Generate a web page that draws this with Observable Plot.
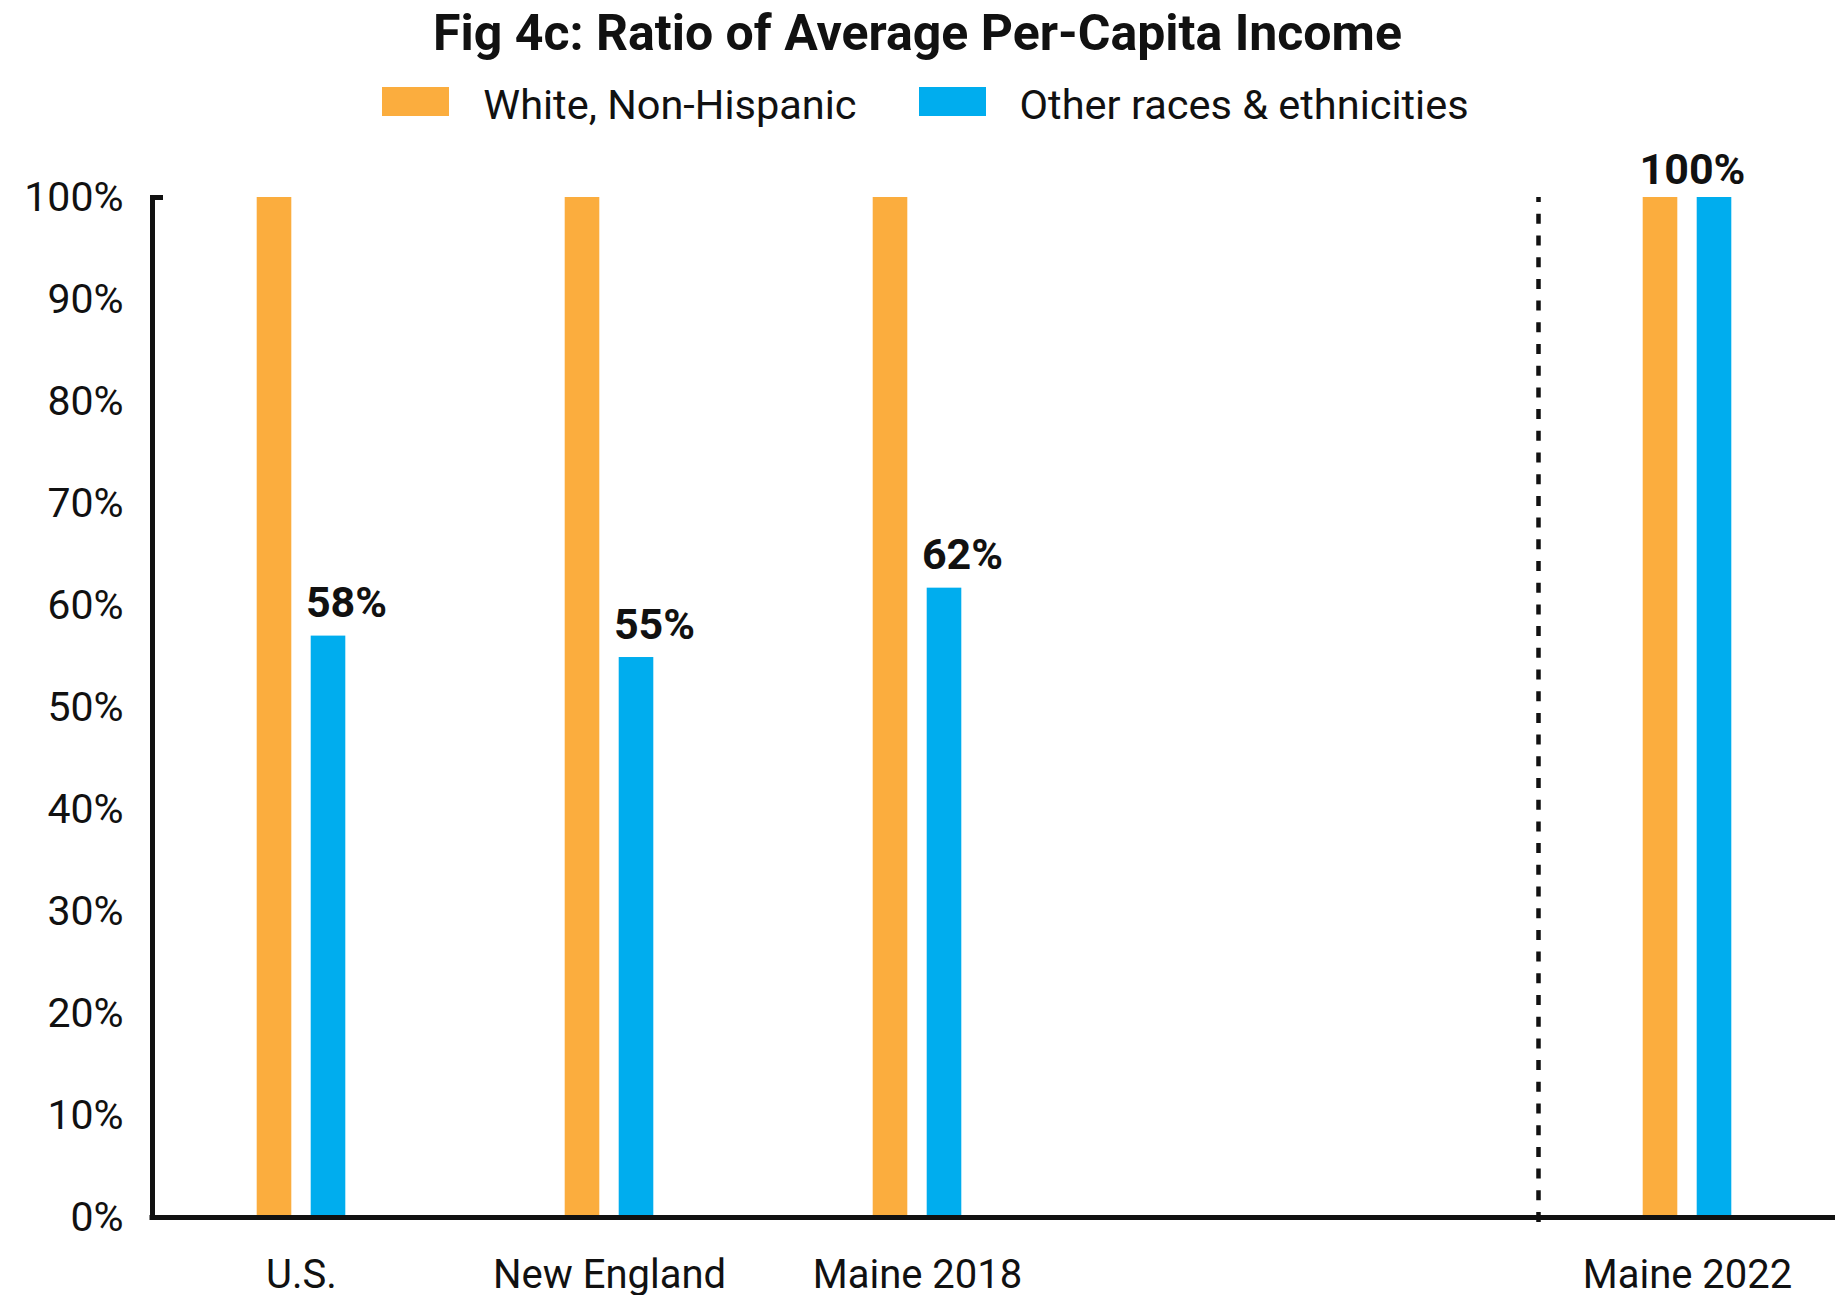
<!DOCTYPE html>
<html><head><meta charset="utf-8">
<script src="https://cdn.jsdelivr.net/npm/d3@7"></script>
<script src="https://cdn.jsdelivr.net/npm/@observablehq/plot@0.6"></script>
<style>
html,body{margin:0;padding:0;background:#fff;}
body{width:1835px;height:1295px;overflow:hidden;font-family:Roboto, sans-serif;color:#111;}
#header{position:relative;height:140px;}
#title{position:absolute;top:8px;left:0;width:1835px;text-align:center;font-weight:700;font-size:50px;line-height:50px;white-space:nowrap;}
#legend{position:absolute;top:84px;left:8px;width:1835px;display:flex;justify-content:center;font-size:41.5px;line-height:42px;white-space:nowrap;}
.item{display:flex;align-items:flex-start;}
.sw{width:67px;height:29px;margin-top:3px;margin-right:34px;}
.item + .item{margin-left:62px;}
</style></head><body>
<div id="header"><div id="title">Fig 4c: Ratio of Average Per-Capita Income</div><div id="legend"></div></div>
<div id="chart"></div>
<script>
// ---- data ----
const categories = ["U.S.", "New England", "Maine 2018", "Maine 2022"];
const seriesNames = ["White, Non-Hispanic", "Other races & ethnicities"];
const seriesColors = ["#FBAD3E", "#00ADEE"];
const whiteShare = [100, 100, 100, 100];
const otherShare = [57, 54.9, 61.7, 100];
const otherLabels = ["58%", "55%", "62%", ""];
const pairLabels = ["", "", "", "100%"];
// x slots: categories plus empty spacer slots (one of them holds the divider)
const xSlots = ["U.S.", "gap1", "New England", "gap2", "Maine 2018", "gap3", "gap4", "gap5", "divider", "Maine 2022"];
const dividerSlot = "divider";
const yTicks = [0, 10, 20, 30, 40, 50, 60, 70, 80, 90, 100];

// ---- legend ----
const legend = document.getElementById("legend");
seriesNames.forEach((name, i) => {
  const item = document.createElement("div");
  item.className = "item";
  const sw = document.createElement("div");
  sw.className = "sw";
  sw.style.background = seriesColors[i];
  const label = document.createElement("span");
  label.textContent = name;
  item.appendChild(sw);
  item.appendChild(label);
  legend.appendChild(item);
});

// ---- chart ----
const rows = categories.map((c, i) => ({
  slot: c, white: whiteShare[i], other: otherShare[i],
  otherLabel: otherLabels[i], pairLabel: pairLabels[i]
}));

const chart = Plot.plot({
  width: 1835,
  height: 1155,
  marginTop: 57,
  marginBottom: 78,
  marginLeft: 152,
  marginRight: 0,
  style: {fontFamily: "Roboto, sans-serif", color: "#111", background: "#fff", overflow: "visible"},
  x: {type: "band", domain: xSlots, paddingInner: 0, paddingOuter: 0.45, label: null},
  y: {domain: [0, 100], label: null},
  marks: [
    Plot.barY(rows, {x: "slot", y: "white", fill: seriesColors[0], insetLeft: 32.7, insetRight: 86.7}),
    Plot.barY(rows, {x: "slot", y: "other", fill: seriesColors[1], insetLeft: 86.7, insetRight: 32.7}),
    Plot.ruleX([dividerSlot], {x: d => d, y1: 0, y2: 100, insetTop: 5, dx: 5, stroke: "#111", strokeWidth: 4.5, strokeDasharray: "10,11.7"}),
    Plot.axisY({ticks: yTicks, tickFormat: d => d + "%", tickSize: 0, tickPadding: 29, fontSize: 41}),
    Plot.axisY({ticks: [100], tickFormat: () => "", tickSize: -11, strokeWidth: 5}),
    Plot.axisX({tickSize: 0, tickPadding: 42, fontSize: 40, tickFormat: d => categories.includes(d) ? d : ""}),
    Plot.frame({anchor: "left", strokeWidth: 5, stroke: "#111"}),
    Plot.ruleY([0], {strokeWidth: 5, stroke: "#111", insetLeft: -2.5}),
    Plot.text(rows.filter(d => d.otherLabel), {x: "slot", y: "other", text: "otherLabel", lineAnchor: "bottom", dx: 45, dy: -19, fontSize: 43, fontWeight: 700}),
    Plot.text(rows.filter(d => d.pairLabel), {x: "slot", y: "other", text: "pairLabel", lineAnchor: "bottom", dx: 5, dy: -14, fontSize: 43, fontWeight: 700})
  ]
});
document.getElementById("chart").appendChild(chart);
</script></body></html>
